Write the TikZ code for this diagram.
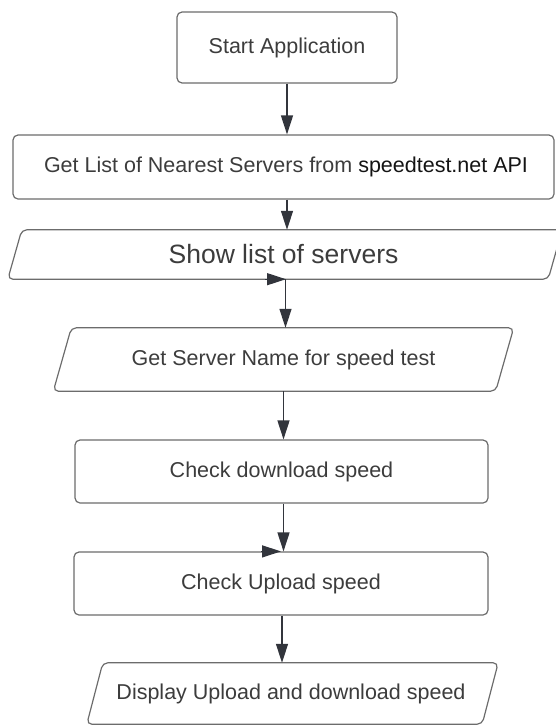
\documentclass[tikz,border=0pt]{standalone}
\usepackage{fontspec}
\setmainfont{Liberation Sans}
\usetikzlibrary{arrows.meta,calc}
\definecolor{bordc}{RGB}{108,108,108}
\definecolor{txtc}{RGB}{60,60,60}
\definecolor{darktxt}{RGB}{20,20,20}
\definecolor{arrc}{RGB}{50,53,60}
\tikzset{
  box/.style={draw=bordc, line width=1.2pt, rounded corners=5pt, text=txtc,
    font=\fontsize{21.5}{25}\selectfont, inner sep=0pt},
  parabox/.style={draw=none, text=txtc, font=\fontsize{21.5}{25}\selectfont, inner sep=0pt},
  paraline/.style={draw=bordc, line width=1.2pt, rounded corners=5pt},
  arr/.style={draw=arrc, line width=1.3pt, -{Triangle[length=19pt,width=12pt]}},
}
\newcommand{\paraoutline}[2]{%
  \draw[paraline] ([xshift=#2]#1.north west) -- ([xshift=#2]#1.north east)
    -- ([xshift=-#2]#1.south east) -- ([xshift=-#2]#1.south west) -- cycle;}
\begin{document}
\begin{tikzpicture}[x=1pt,y=-1pt]
\useasboundingbox (0,0) rectangle (555,726);

\node[box, minimum width=220pt, minimum height=71pt] (start) at (287,47.5) {Start Application};

\node[box, minimum width=541pt, minimum height=64pt] (getlist) at (283.5,167)
  {\hspace*{5pt}Get List of Nearest Servers from \textcolor{darktxt}{speedtest.net API}};

\node[parabox, minimum width=540pt, minimum height=49pt,
  font=\fontsize{26.5}{30}\selectfont] (show) at (285,254.5) {\hspace*{-3pt}Show list of servers};
\paraoutline{show}{7pt}

\node[parabox, minimum width=442pt, minimum height=63pt] (server) at (283.5,359.5)
  {Get Server Name for speed test};
\paraoutline{server}{9pt}

\node[box, minimum width=413pt, minimum height=63pt] (down) at (281.5,471.5) {Check download speed};

\node[box, minimum width=414pt, minimum height=63pt] (up) at (281,583.5) {Check Upload speed};

\node[parabox, minimum width=395pt, minimum height=61pt] (disp) at (292.5,693.5)
  {\hspace*{-3pt}Display Upload and download speed};
\paraoutline{disp}{8pt}

% connectors
\draw[arr] (start.south) -- (start.south |- getlist.north);
\draw[arr] (getlist.south -| start.south) -- (show.north -| start.south);
\coordinate (h1) at ($(show.south)+(-20,0)$);
\draw[arr] (h1) -- ([xshift=1pt]show.south);
\draw[arr] ([xshift=0.5pt]show.south) -- ([xshift=0.5pt]show.south |- server.north);
\draw[arr] (server.south) -- (server.south |- down.north);
\draw[arr] ([xshift=2pt]down.south) -- ([xshift=2pt]down.south |- up.north);
\coordinate (h2) at ($(up.north)+(-20,0)$);
\draw[arr] (h2) -- (up.north);
\draw[arr] ([xshift=1pt]up.south) -- ([xshift=1pt]up.south |- disp.north);
\end{tikzpicture}
\end{document}
